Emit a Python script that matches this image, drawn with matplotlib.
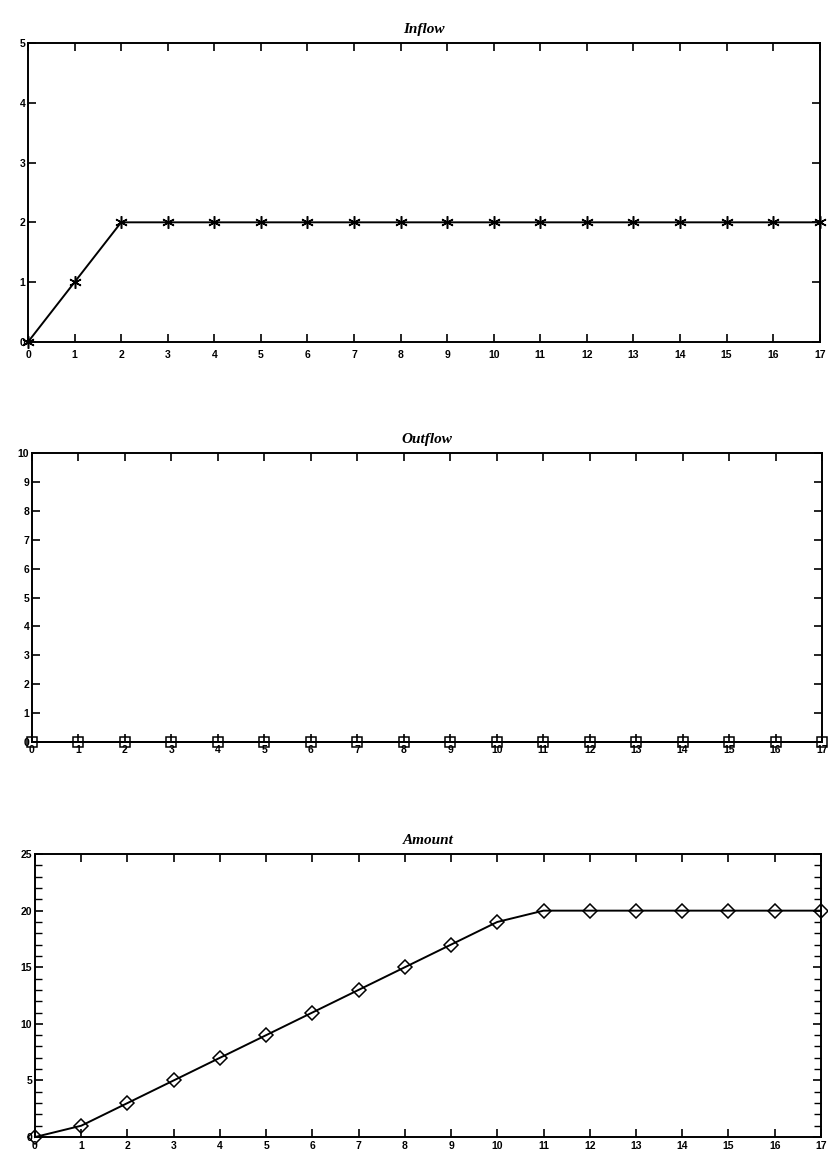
import matplotlib
matplotlib.use("Agg")
import matplotlib.pyplot as plt
from matplotlib.ticker import MultipleLocator

# data
steps = list(range(18))
inflow = [0, 1, 2, 2, 2, 2, 2, 2, 2, 2, 2, 2, 2, 2, 2, 2, 2, 2]
outflow = [0] * 18
amount = [0, 1, 3, 5, 7, 9, 11, 13, 15, 17, 19, 20, 20, 20, 20, 20, 20, 20]

fig = plt.figure(figsize=(8.29, 11.56), dpi=100)

tick_font = {'family': 'Liberation Sans', 'weight': 'bold', 'size': 7.5}
title_font = {'family': 'Liberation Serif', 'weight': 'bold', 'style': 'italic', 'size': 11}


def style_axis(ax, title, ymax, ystep, xpad, minor=None):
    ax.set_xlim(0, 17)
    ax.set_ylim(0, ymax)
    ax.xaxis.set_major_locator(MultipleLocator(1))
    ax.yaxis.set_major_locator(MultipleLocator(ystep))
    if minor:
        ax.yaxis.set_minor_locator(MultipleLocator(minor))
    ax.tick_params(which='major', direction='in', length=6, width=1.2,
                   top=True, right=True, pad=2)
    ax.tick_params(which='minor', direction='in', length=5, width=1.0,
                   top=True, right=True)
    ax.tick_params(axis='x', pad=xpad)
    for lab in ax.get_xticklabels() + ax.get_yticklabels():
        lab.set_fontfamily(tick_font['family'])
        lab.set_fontweight(tick_font['weight'])
        lab.set_fontsize(tick_font['size'])
    for sp in ax.spines.values():
        sp.set_linewidth(1.4)
    ax.set_title(title, fontdict=title_font, pad=7)


# Inflow
ax1 = fig.add_axes([0.0338, 0.7042, 0.955, 0.2587])
ax1.plot(steps, inflow, color='black', linewidth=1.4,
         marker=(6, 2, 0), markersize=9, markeredgewidth=1.1, clip_on=False)
style_axis(ax1, 'Inflow', 5, 1, 6)

# Outflow
ax2 = fig.add_axes([0.0386, 0.3581, 0.953, 0.25])
ax2.plot(steps, outflow, color='black', linewidth=1.4,
         marker='s', markersize=7, markerfacecolor='none',
         markeredgewidth=1.1, clip_on=False)
style_axis(ax2, 'Outflow', 10, 1, 2)

# Amount
ax3 = fig.add_axes([0.0422, 0.0164, 0.948, 0.2448])
ax3.plot(steps, amount, color='black', linewidth=1.4,
         marker='D', markersize=7, markerfacecolor='none',
         markeredgewidth=1.1, clip_on=False)
style_axis(ax3, 'Amount', 25, 5, 3, minor=1)

fig.savefig('out.png', dpi=100)
